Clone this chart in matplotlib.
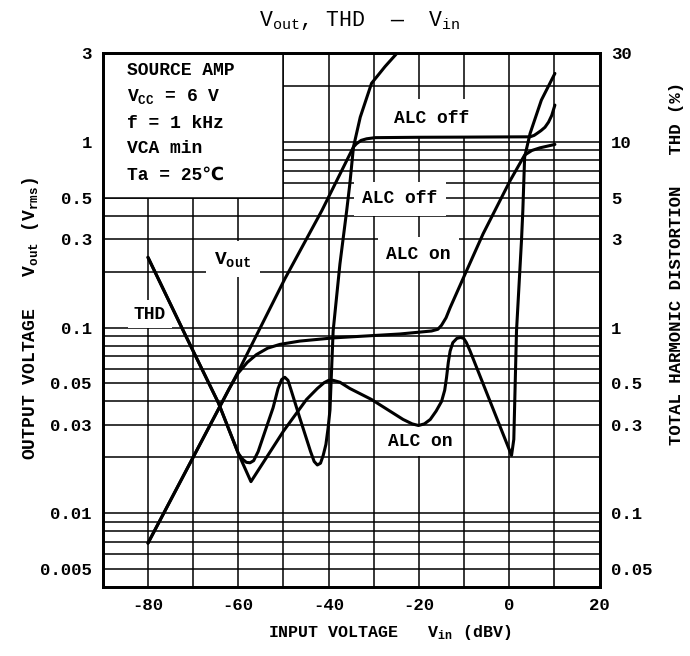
import matplotlib
matplotlib.use("Agg")
import matplotlib.pyplot as plt
from matplotlib.ticker import FixedLocator
from matplotlib.patches import Rectangle

FONT = ['Liberation Mono', 'DejaVu Sans']
plt.rcParams['font.family'] = FONT
plt.rcParams['mathtext.fontset'] = 'custom'
plt.rcParams['mathtext.rm'] = 'Liberation Mono'
plt.rcParams['mathtext.it'] = 'Liberation Mono'
plt.rcParams['mathtext.bf'] = 'Liberation Mono:bold'

# ---- data ----
vin_vout_off = [-80, -60, -49.7, -41.5, -34.5, -33.8, -32.8, -31.6, -29.7, -20, -10, 0, 4.6, 5.5, 6.1, 7.0,
                7.9, 8.7, 9.4, 10.1]
vout_off = [0.0069, 0.058, 0.183, 0.427, 0.94, 0.98, 1.02, 1.04, 1.055, 1.06, 1.062, 1.065, 1.066, 1.085, 1.11,
            1.15, 1.2, 1.28, 1.39, 1.58]

vin_vout_on = [-80, -62, -60, -58, -56, -53.5, -50.8, -46.4, -39, -24.2, -17.2, -15.8, -15, -14, -13.1, -9.8,
               -5.8, 0.2, 3.4, 5.0, 6.8, 10.1]
vout_on = [0.0069, 0.047, 0.057, 0.065, 0.0715, 0.0775, 0.0812, 0.0846, 0.088, 0.0924, 0.0959, 0.098, 0.103,
           0.113, 0.128, 0.194, 0.32, 0.62, 0.85, 0.9, 0.93, 0.97]

vin_thd_off = [-80, -71.8, -64.4, -60, -59, -58.2, -57.4, -56.6, -55.6, -54, -52.3, -51.2, -50.4, -49.7, -49.0,
               -48.3, -46.4, -44, -43.2, -42.5, -41.8, -41.2, -40.6, -40.1, -39.7, -39.4, -39, -37.5, -36, -35.3,
               -34.5, -33, -30.5, -27.5, -24.9]
thd_off = [2.39, 0.92, 0.393, 0.21, 0.195, 0.188, 0.187, 0.192, 0.215, 0.28, 0.37, 0.47, 0.525, 0.54, 0.52,
           0.46, 0.327, 0.215, 0.19, 0.182, 0.186, 0.205, 0.235, 0.29, 0.36, 0.55, 0.96, 2.2, 4.27, 5.96,
           9.4, 13.6, 20.7, 25.5, 30.0]

vin_thd_on = [-80, -71.8, -64.4, -60, -57.2, -50, -44.9, -42.5, -41, -40, -39, -37.5, -35.3, -30.5, -23.5, -21.5,
              -20.1, -18.8, -17.5, -16.2, -15, -14.3, -13.9, -13.5, -13.1, -12.5, -11.6, -10.8, -10.1, -9.5,
              -8.7, 0.5, 1.0, 1.6, 2.7, 3.0, 3.4, 4.6, 7.1, 10.1]
thd_on = [2.39, 0.92, 0.393, 0.21, 0.148, 0.277, 0.41, 0.47, 0.505, 0.52, 0.52, 0.508, 0.47, 0.41, 0.32, 0.303,
          0.297, 0.303, 0.32, 0.355, 0.40, 0.46, 0.537, 0.65, 0.747, 0.83, 0.875, 0.885, 0.875, 0.83,
          0.75, 0.205, 0.25, 0.96, 2.94, 4.27, 8.3, 11.1, 16.8, 23.4]

x_ticks = [-80, -60, -40, -20, 0, 20]
x_ticklabels = ['-80', '-60', '-40', '-20', '0', '20']
left_ticks = [3, 1, 0.5, 0.3, 0.1, 0.05, 0.03, 0.01, 0.005]
left_ticklabels = ['3', '1', '0.5', '0.3', '0.1', '0.05', '0.03', '0.01', '0.005']
right_ticks = [30, 10, 5, 3, 1, 0.5, 0.3, 0.1, 0.05]
right_ticklabels = ['30', '10', '5', '3', '1', '0.5', '0.3', '0.1', '0.05']

XMIN, XMAX = -90, 20
YMIN, YMAX = 0.004, 3.0

fig = plt.figure(figsize=(6.9, 6.56), dpi=100)
ax = fig.add_axes([0.149, 0.105, 0.72, 0.8136])
ax.set_yscale('log')
ax.set_xlim(XMIN, XMAX)
ax.set_ylim(YMIN, YMAX)

# grid
for xv in range(-80, 20, 10):
    ax.axvline(xv, color='black', lw=1.1, zorder=1)
grid_y = []
for dec in [0.001, 0.01, 0.1, 1]:
    for m in range(1, 10):
        v = round(m * dec, 6)
        if YMIN * 1.05 < v < YMAX * 0.99:
            grid_y.append(v)
for yv in grid_y:
    ax.axhline(yv, color='black', lw=1.1, zorder=1)

# white info box upper-left
ax.add_patch(Rectangle((XMIN, 0.5), -50 - XMIN, YMAX - 0.5, facecolor='white',
                       edgecolor='black', lw=1.1, zorder=1.5))

lw = 2.2
kw = dict(color='black', lw=lw, zorder=3, solid_capstyle='round', solid_joinstyle='round')
ax.plot(vin_vout_off, vout_off, **kw)
ax.plot(vin_vout_on, vout_on, **kw)
ax.plot(vin_thd_off, [t / 10.0 for t in thd_off], **kw)
ax.plot(vin_thd_on, [t / 10.0 for t in thd_on], **kw)

TICK_FS = 12.5
ax.xaxis.set_major_locator(FixedLocator(x_ticks))
ax.set_xticklabels(x_ticklabels)
ax.yaxis.set_major_locator(FixedLocator(left_ticks))
ax.yaxis.set_minor_locator(FixedLocator([]))
ax.set_yticklabels(left_ticklabels)
ax.tick_params(axis='both', length=0, labelsize=TICK_FS, pad=8)
for lab in ax.get_xticklabels() + ax.get_yticklabels():
    lab.set_fontweight('bold')

ax2 = ax.twinx()
ax2.set_yscale('log')
ax2.set_ylim(YMIN * 10, YMAX * 10)
ax2.yaxis.set_major_locator(FixedLocator(right_ticks))
ax2.yaxis.set_minor_locator(FixedLocator([]))
ax2.set_yticklabels(right_ticklabels)
ax2.tick_params(axis='y', length=0, labelsize=TICK_FS, pad=8)
for lab in ax2.get_yticklabels():
    lab.set_fontweight('bold')

for a in (ax, ax2):
    for s in a.spines.values():
        s.set_linewidth(2.0)

# in-plot labels
tfs = 13
info = [("SOURCE AMP", 2.44), (r"V$_{\mathregular{CC}}$ = 6 V", 1.75), ("f = 1 kHz", 1.26),
        ("VCA min", 0.924), ("Ta = 25℃", 0.661)]
for txt, yv in info:
    ax.text(-84.7, yv, txt, fontsize=tfs, ha='left', va='center', zorder=4, fontweight='bold')

ax.text(-61.2, 0.234, r"V$_{\mathregular{out}}$", fontsize=tfs + 1, ha='center', va='center',
        zorder=2, bbox=dict(facecolor='white', edgecolor='none', pad=6), fontweight='bold')
ax.text(-79.6, 0.118, "THD", fontsize=tfs, ha='center', va='center', zorder=2,
        bbox=dict(facecolor='white', edgecolor='none', pad=4), fontweight='bold')
ax.text(-17.2, 1.338, "ALC off", fontsize=tfs, ha='center', va='center', zorder=2,
        bbox=dict(facecolor='white', edgecolor='none', pad=8), fontweight='bold')
ax.text(-24.2, 0.494, "ALC off", fontsize=tfs, ha='center', va='center', zorder=2,
        bbox=dict(facecolor='white', edgecolor='none', pad=6), fontweight='bold')
ax.text(-20.1, 0.249, "ALC on", fontsize=tfs, ha='center', va='center', zorder=2,
        bbox=dict(facecolor='white', edgecolor='none', pad=6), fontweight='bold')
ax.text(-19.8, 0.0245, "ALC on", fontsize=tfs, ha='center', va='center', zorder=2,
        bbox=dict(facecolor='white', edgecolor='none', pad=5), fontweight='bold')

# titles / axis labels
fig.text(360 / 690, 1 - 21 / 656, r"V$_{\mathregular{out}}$, THD  —  V$_{\mathregular{in}}$",
         fontsize=15.5, ha='center', va='center')
fig.text(390 / 690, 1 - 633 / 656, r"INPUT VOLTAGE   V$_{\mathregular{in}}$ (dBV)",
         fontsize=12, ha='center', va='center', fontweight='bold')
fig.text(31 / 690, 1 - 318 / 656, r"OUTPUT VOLTAGE   V$_{\mathregular{out}}$ (V$_{\mathregular{rms}}$)",
         fontsize=13, ha='center', va='center', rotation=90, fontweight='bold')
fig.text(676 / 690, 1 - 263 / 656, "TOTAL HARMONIC DISTORTION   THD (%)",
         fontsize=12.5, ha='center', va='center', rotation=90, fontweight='bold')

fig.savefig("out.png", dpi=100, facecolor='white')
